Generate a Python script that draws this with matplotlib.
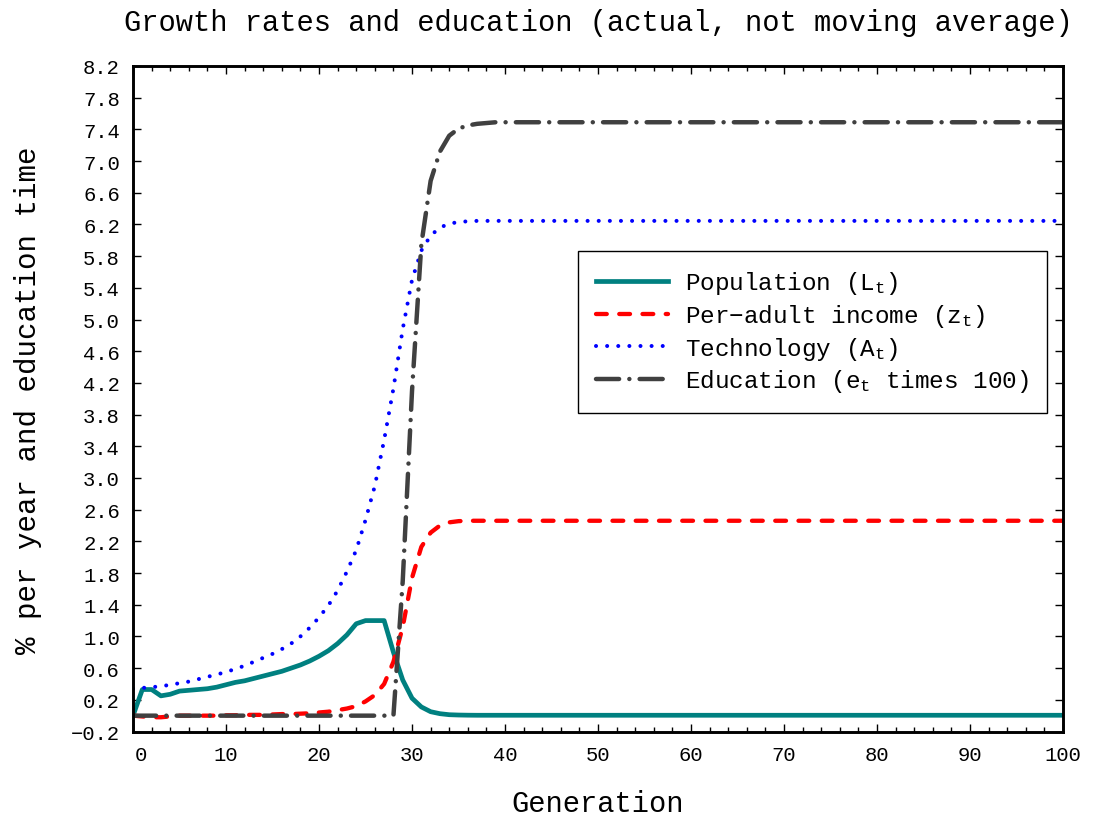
import matplotlib
matplotlib.use("Agg")
import matplotlib.pyplot as plt
import matplotlib.transforms as mtransforms
from matplotlib.ticker import MultipleLocator, FuncFormatter

# generations where values were read (flat after ~40)
generation = [0, 1, 2, 3, 4, 5, 6, 7, 8, 9, 10, 11, 12, 13, 14, 15, 16, 17, 18, 19, 20,
              21, 22, 23, 24, 25, 26, 27, 28, 29, 30, 31, 32, 33, 34, 35, 36, 37, 38, 39, 40,
              50, 60, 70, 80, 90, 100]

population = [0.00, 0.33, 0.33, 0.25, 0.27, 0.31, 0.32, 0.33, 0.34, 0.36, 0.39,
              0.42, 0.44, 0.47, 0.50, 0.53, 0.56, 0.60, 0.64, 0.69, 0.75,
              0.82, 0.91, 1.02, 1.16, 1.20, 1.20, 1.20, 0.80, 0.45, 0.22,
              0.11, 0.05, 0.025, 0.012, 0.008, 0.006, 0.005, 0.005, 0.005, 0.005,
              0.005, 0.005, 0.005, 0.005, 0.005, 0.005]

income = [0.00, -0.01, -0.02, -0.02, -0.01, 0.00, 0.00, 0.00, 0.00, 0.00, 0.005,
          0.005, 0.01, 0.01, 0.01, 0.015, 0.02, 0.02, 0.025, 0.03, 0.04,
          0.05, 0.07, 0.09, 0.12, 0.18, 0.26, 0.40, 0.68, 1.12, 1.74,
          2.13, 2.31, 2.40, 2.44, 2.455, 2.46, 2.46, 2.46, 2.46, 2.46,
          2.46, 2.46, 2.46, 2.46, 2.46, 2.46]

technology = [0.34, 0.35, 0.36, 0.37, 0.39, 0.41, 0.43, 0.46, 0.49, 0.52, 0.55,
              0.59, 0.63, 0.68, 0.73, 0.78, 0.84, 0.91, 1.00, 1.11, 1.24,
              1.39, 1.58, 1.82, 2.09, 2.47, 2.90, 3.48, 4.13, 4.88, 5.50,
              5.87, 6.06, 6.16, 6.21, 6.23, 6.24, 6.245, 6.245, 6.245, 6.245,
              6.245, 6.245, 6.245, 6.245, 6.245, 6.245]

education = [0.0, 0.0, 0.0, 0.0, 0.0, 0.0, 0.0, 0.0, 0.0, 0.0, 0.0,
             0.0, 0.0, 0.0, 0.0, 0.0, 0.0, 0.0, 0.0, 0.0, 0.0,
             0.0, 0.0, 0.0, 0.0, 0.0, 0.0, 0.0, 0.0, 1.70, 4.10,
             5.95, 6.75, 7.12, 7.32, 7.41, 7.45, 7.47, 7.48, 7.49, 7.49,
             7.49, 7.49, 7.49, 7.49, 7.49, 7.49]

labels = ["Population (L$_\\mathrm{t}$)",
          "Per\u2212adult income (z$_\\mathrm{t}$)",
          "Technology (A$_\\mathrm{t}$)",
          "Education (e$_\\mathrm{t}$ times 100)"]

xticks = [0, 10, 20, 30, 40, 50, 60, 70, 80, 90, 100]
yticks = [-0.2, 0.2, 0.6, 1.0, 1.4, 1.8, 2.2, 2.6, 3.0, 3.4, 3.8,
          4.2, 4.6, 5.0, 5.4, 5.8, 6.2, 6.6, 7.0, 7.4, 7.8, 8.2]

plt.rcParams["font.family"] = ["Liberation Mono", "DejaVu Sans"]
plt.rcParams["mathtext.fontset"] = "custom"
for k in ["rm", "it", "tt", "sf", "bf"]:
    plt.rcParams["mathtext." + k] = "Liberation Mono"

fig = plt.figure(figsize=(10.94, 8.2), dpi=100)
ax = fig.add_axes([0.1216, 0.1067, 0.8501, 0.8116])

ax.plot(generation, population, color="#008080", lw=3.4, label=labels[0])
ax.plot(generation, income, color="#ff0000", lw=3.1, dashes=(2.5, 2.9),
        dash_capstyle="round", label=labels[1])
ax.plot(generation, technology, color="#0000ff", lw=2.9, dashes=(0.01, 2.75),
        dash_capstyle="round", label=labels[2])
ax.plot(generation, education, color="#404040", lw=3.2, dashes=(5.2, 2.3, 0.01, 2.3),
        dash_capstyle="round", label=labels[3])

ax.set_xlim(0, 100)
ax.set_ylim(-0.2, 8.2)
ax.set_xticks(xticks)
ax.xaxis.set_minor_locator(MultipleLocator(2))
ax.set_yticks(yticks)
ax.yaxis.set_major_formatter(FuncFormatter(lambda v, p: f"{v:.1f}".replace("-", "\u2212")))

ax.tick_params(which="both", direction="in", top=True, right=True, width=1.0,
               colors="black", labelsize=14.8, pad=9.5)
ax.tick_params(which="major", length=5.5)
ax.tick_params(which="minor", length=3.3)
for s in ax.spines.values():
    s.set_linewidth(2.1)

# the "0" label sits a bit right of its tick in the reference
lbl0 = ax.xaxis.get_major_ticks()[0].label1
lbl0.set_transform(lbl0.get_transform() +
                   mtransforms.ScaledTranslation(8 / 100, 0, fig.dpi_scale_trans))

ax.set_title("Growth rates and education (actual, not moving average)",
             fontsize=20.7, pad=26)
ax.set_xlabel("Generation", fontsize=20.7, labelpad=18)
ax.set_ylabel("% per year and education time", fontsize=21, labelpad=21)

leg = ax.legend(loc="upper right", bbox_to_anchor=(0.9828, 0.722), borderaxespad=0,
                fontsize=17.5, handlelength=2.96, handletextpad=0.69, borderpad=0.76,
                labelspacing=0.23, fancybox=False, framealpha=1, edgecolor="black")
leg.get_frame().set_linewidth(1.0)

fig.savefig("out.png", dpi=100)
